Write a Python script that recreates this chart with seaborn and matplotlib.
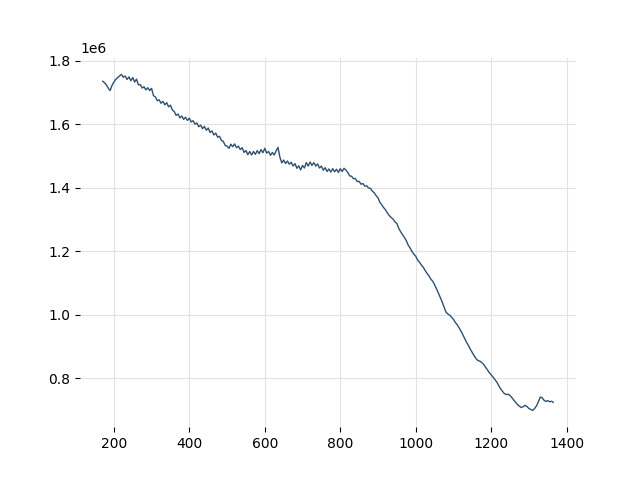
import numpy as np
import pandas as pd
import seaborn as sns
import matplotlib.pyplot as plt

sns.set_style(
    "whitegrid",
    rc={
        "axes.edgecolor": "white",
        "grid.color": "#e3e3e3",
        "grid.linewidth": 1.4,
        "text.color": "black",
        "xtick.color": "black",
        "ytick.color": "black",
        "xtick.bottom": True,
        "ytick.left": True,
        "xtick.major.size": 3.5,
        "ytick.major.size": 3.5,
        "xtick.major.width": 0.8,
        "ytick.major.width": 0.8,
    },
)

# sample positions (every 5 units)
step = np.arange(170, 1366, 5)

# values in millions
value_m = [
    1.736, 1.731, 1.724, 1.714, 1.706, 1.722, 1.733, 1.741, 1.747, 1.752,
    1.757, 1.748, 1.752, 1.741, 1.749, 1.737, 1.747, 1.733, 1.742, 1.724,
    1.725, 1.714, 1.718, 1.708, 1.715, 1.706, 1.713, 1.690, 1.686, 1.674,
    1.677, 1.666, 1.672, 1.661, 1.668, 1.655, 1.660, 1.645, 1.640, 1.628,
    1.632, 1.620, 1.626, 1.615, 1.622, 1.612, 1.619, 1.607, 1.611, 1.600,
    1.604, 1.592, 1.597, 1.586, 1.593, 1.581, 1.588, 1.574, 1.579, 1.566,
    1.572, 1.559, 1.562, 1.549, 1.546, 1.533, 1.531, 1.524, 1.537, 1.529,
    1.538, 1.526, 1.531, 1.520, 1.526, 1.511, 1.517, 1.504, 1.514, 1.503,
    1.514, 1.505, 1.517, 1.507, 1.520, 1.510, 1.524, 1.509, 1.514, 1.502,
    1.511, 1.503, 1.516, 1.527, 1.496, 1.478, 1.487, 1.476, 1.484, 1.474,
    1.480, 1.468, 1.476, 1.461, 1.469, 1.456, 1.470, 1.462, 1.479, 1.468,
    1.481, 1.470, 1.479, 1.468, 1.475, 1.462, 1.468, 1.455, 1.463, 1.451,
    1.459, 1.449, 1.460, 1.450, 1.458, 1.448, 1.460, 1.451, 1.461, 1.455,
    1.448, 1.437, 1.436, 1.428, 1.429, 1.419, 1.420, 1.411, 1.413, 1.405,
    1.406, 1.399, 1.398, 1.389, 1.384, 1.375, 1.368, 1.354, 1.346, 1.337,
    1.330, 1.320, 1.312, 1.306, 1.301, 1.292, 1.287, 1.272, 1.261, 1.252,
    1.243, 1.233, 1.219, 1.210, 1.199, 1.190, 1.184, 1.172, 1.165, 1.156,
    1.149, 1.139, 1.130, 1.122, 1.112, 1.105, 1.094, 1.081, 1.068, 1.054,
    1.040, 1.024, 1.008, 1.002, 0.998, 0.992, 0.985, 0.975, 0.968, 0.958,
    0.948, 0.936, 0.924, 0.912, 0.902, 0.890, 0.880, 0.870, 0.861, 0.855,
    0.853, 0.849, 0.843, 0.834, 0.826, 0.817, 0.810, 0.803, 0.795, 0.787,
    0.776, 0.766, 0.758, 0.751, 0.748, 0.749, 0.745, 0.738, 0.730, 0.723,
    0.716, 0.711, 0.707, 0.710, 0.714, 0.710, 0.704, 0.701, 0.698, 0.704,
    0.712, 0.725, 0.740, 0.738, 0.730, 0.726, 0.729, 0.725, 0.727, 0.723,
]

df = pd.DataFrame({"x": step, "y": np.array(value_m) * 1e6})

fig, ax = plt.subplots(figsize=(6.4, 4.8), dpi=100)
sns.lineplot(data=df, x="x", y="y", color="#30506f", linewidth=1.0, ax=ax)
ax.set_xlabel("")
ax.set_ylabel("")
sns.despine(left=True, bottom=True)

fig.savefig("out.png")
